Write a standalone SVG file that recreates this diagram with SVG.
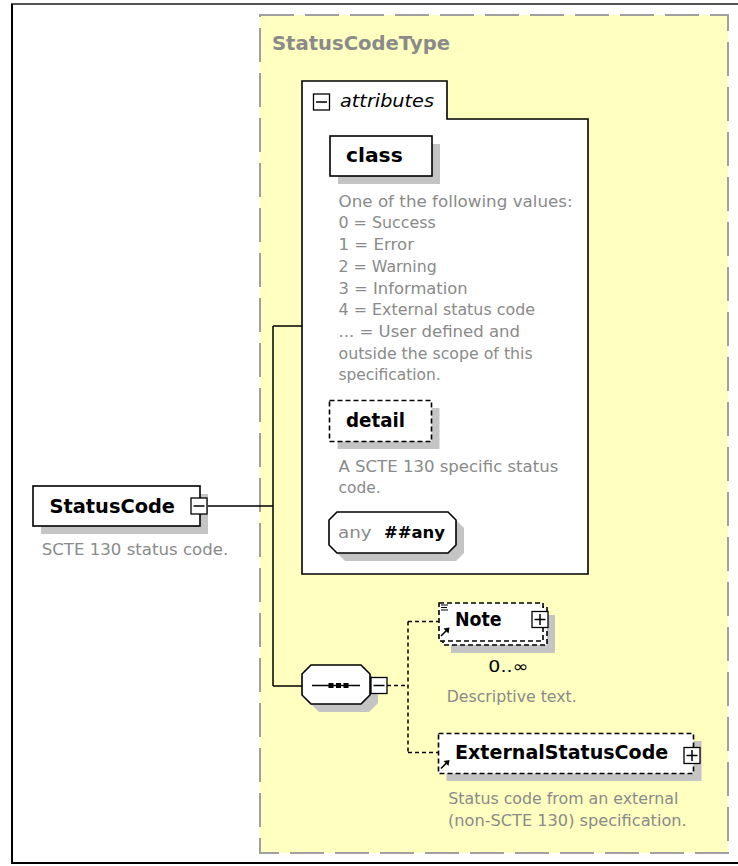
<svg xmlns="http://www.w3.org/2000/svg" xmlns:xlink="http://www.w3.org/1999/xlink" width="738" height="866" viewBox="0 0 738 866">
<style>
text{font-family:"DejaVu Sans","Liberation Sans",sans-serif}
.name{font-size:19px;font-weight:bold;fill:#000}
.desc{font-size:15px;fill:#8a8a8a}
.title{font-size:19px;font-weight:bold;fill:#8a8a8a}
.box{fill:#fff;stroke:#000;stroke-width:1.6}
.dbox{fill:#fff;stroke:#000;stroke-width:1.6;stroke-dasharray:5 3}
.shadow{fill:#c4c4c4}
.conn{fill:none;stroke:#000;stroke-width:1.5}
.dconn{fill:none;stroke:#000;stroke-width:1.5;stroke-dasharray:4 3}
.icon{fill:#fff;stroke:#000;stroke-width:1.3}
.sign{stroke:#000;stroke-width:1.5;fill:none}
</style>
<defs>
<g id="minus"><rect class="icon" x="-8" y="-8" width="16" height="16"/><path class="sign" d="M-5.5 0H5.5"/></g>
<g id="plus"><rect class="icon" x="-8" y="-8" width="16" height="16"/><path class="sign" d="M-5.5 0H5.5M0 -5.5V5.5"/></g>
<g id="ref"><path d="M0 9L6 3" stroke="#000" stroke-width="1.6" fill="none"/><path d="M8.5 0.5L2.5 1.5L7.5 6.5Z" fill="#000"/></g>
</defs>

<g id="frame">
<path d="M11 4H738" stroke="#555" stroke-width="2" fill="none"/>
<path d="M12 4V863" stroke="#000" stroke-width="2" fill="none"/>
<path d="M11 863H738" stroke="#000" stroke-width="2" fill="none"/>
</g>

<g id="StatusCodeType">
<rect x="260" y="15" width="468" height="838" fill="#ffffc0" stroke="#a0a0a0" stroke-width="2" stroke-dasharray="34 11"/>
<text class="title" x="272" y="49.5" textLength="178" lengthAdjust="spacingAndGlyphs">StatusCodeType</text>
</g>

<g id="connectors">
<path class="conn" d="M207 506H273M273 326V686M273 326H302M273 686H302"/>
<path class="dconn" d="M387 685.5H408M408 621.5V752.5M408 621.5H439M408 752.5H438"/>
<path d="M512 641L521 645M524 652L530 647" stroke="#555" stroke-width="1" fill="none"/>
</g>

<g id="StatusCode">
<rect class="shadow" x="41" y="494" width="167" height="40"/>
<rect class="box" x="33" y="486" width="167" height="40"/>
<text class="name" x="49.5" y="513.3" textLength="125.5" lengthAdjust="spacingAndGlyphs">StatusCode</text>
<use xlink:href="#minus" x="199" y="506"/>
<text class="desc" x="41.7" y="555" textLength="186.6" lengthAdjust="spacingAndGlyphs">SCTE 130 status code.</text>
</g>

<g id="attributes">
<path d="M302 81H447V119H588V574H302Z" fill="#fff" stroke="#000" stroke-width="1.6"/>
<use xlink:href="#minus" x="321.5" y="102"/>
<text x="340" y="107.3" font-size="17" font-style="italic" fill="#000" textLength="94" lengthAdjust="spacingAndGlyphs">attributes</text>
</g>

<g id="class">
<rect class="shadow" x="338" y="144" width="102" height="40"/>
<rect class="box" x="330" y="136" width="102" height="40"/>
<text class="name" x="346" y="162.3" textLength="56.7" lengthAdjust="spacingAndGlyphs">class</text>
<g class="desc">
<text x="338.5" y="206.7" textLength="234.2" lengthAdjust="spacingAndGlyphs">One of the following values:</text>
<text x="338.5" y="228.4" textLength="97.2" lengthAdjust="spacingAndGlyphs">0 = Success</text>
<text x="338.5" y="250.1" textLength="75.5" lengthAdjust="spacingAndGlyphs">1 = Error</text>
<text x="338.5" y="271.8" textLength="98.2" lengthAdjust="spacingAndGlyphs">2 = Warning</text>
<text x="338.5" y="293.5" textLength="129.2" lengthAdjust="spacingAndGlyphs">3 = Information</text>
<text x="338.5" y="315.2" textLength="196.5" lengthAdjust="spacingAndGlyphs">4 = External status code</text>
<text x="338.5" y="336.9" textLength="181.5" lengthAdjust="spacingAndGlyphs">... = User defined and</text>
<text x="338.5" y="358.6" textLength="194.2" lengthAdjust="spacingAndGlyphs">outside the scope of this</text>
<text x="338.5" y="380.3" textLength="102.2" lengthAdjust="spacingAndGlyphs">specification.</text>
</g>
</g>

<g id="detail">
<rect class="shadow" x="337.5" y="408" width="102" height="41"/>
<rect class="dbox" x="329.5" y="400.5" width="102" height="41"/>
<text class="name" x="346" y="426.7" textLength="59" lengthAdjust="spacingAndGlyphs">detail</text>
<text class="desc" x="338.5" y="472.3" textLength="219.8" lengthAdjust="spacingAndGlyphs">A SCTE 130 specific status</text>
<text class="desc" x="338.5" y="493.3" textLength="42.2" lengthAdjust="spacingAndGlyphs">code.</text>
</g>

<g id="any">
<path class="shadow" d="M345 520H456L464 528V553L456 561H345L337 553V528Z"/>
<path class="box" d="M337 512H448L456 520V545L448 553H337L329 545V520Z"/>
<text class="desc" x="338" y="538.3" textLength="33.7" lengthAdjust="spacingAndGlyphs">any</text>
<text x="384" y="538.3" font-size="16" font-weight="bold" fill="#000" textLength="61" lengthAdjust="spacingAndGlyphs">##any</text>
</g>

<g id="sequence">
<path class="shadow" d="M319 673H369L378 682V703L369 712H319L310 703V682Z"/>
<path class="box" d="M311 665H361L370 674V695L361 704H311L302 695V674Z"/>
<path d="M312 685.5H360" stroke="#000" stroke-width="1.5"/>
<rect x="328.5" y="683" width="5" height="5" fill="#000"/>
<rect x="336" y="683" width="5" height="5" fill="#000"/>
<rect x="343.5" y="683" width="5" height="5" fill="#000"/>
<use xlink:href="#minus" x="379" y="685.5"/>
</g>

<g id="Note">
<rect class="shadow" x="451" y="615" width="104" height="38"/>
<rect class="dbox" x="443" y="607" width="104" height="38"/>
<rect class="dbox" x="439" y="603" width="104" height="38"/>
<path d="M441 605H448M441 607.5H447M441 610H448" stroke="#000" stroke-width="1"/>
<use xlink:href="#ref" x="441" y="627"/>
<text class="name" x="455" y="625.7" textLength="46.7" lengthAdjust="spacingAndGlyphs">Note</text>
<use xlink:href="#plus" x="540" y="619.5"/>
<text x="488.3" y="671.7" font-size="16" fill="#000" textLength="40" lengthAdjust="spacingAndGlyphs">0..∞</text>
<text class="desc" x="446.7" y="701.7" textLength="130" lengthAdjust="spacingAndGlyphs">Descriptive text.</text>
</g>

<g id="ExternalStatusCode">
<rect class="shadow" x="446.5" y="741" width="255" height="40"/>
<rect class="dbox" x="438.5" y="733.5" width="255" height="40"/>
<use xlink:href="#ref" x="441" y="759.5"/>
<text class="name" x="455" y="759.3" textLength="213.3" lengthAdjust="spacingAndGlyphs">ExternalStatusCode</text>
<use xlink:href="#plus" x="692" y="755.5"/>
<text class="desc" x="448.3" y="804.3" textLength="230" lengthAdjust="spacingAndGlyphs">Status code from an external</text>
<text class="desc" x="448" y="826" textLength="238.7" lengthAdjust="spacingAndGlyphs">(non-SCTE 130) specification.</text>
</g>
</svg>
